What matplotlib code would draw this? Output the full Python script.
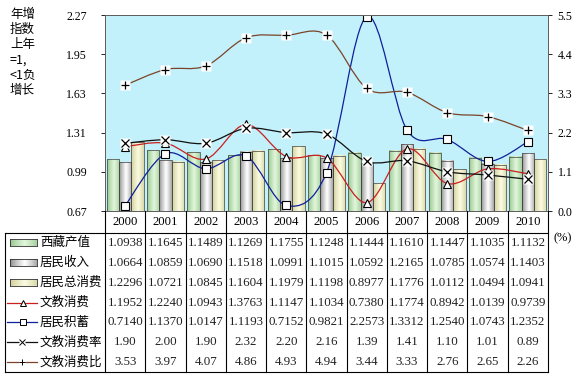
import numpy as np
import matplotlib
matplotlib.use('Agg')
import matplotlib.pyplot as plt
from matplotlib.path import Path
from matplotlib.patches import PathPatch, Rectangle
from matplotlib.lines import Line2D
from matplotlib.transforms import blended_transform_factory

years = ['2000', '2001', '2002', '2003', '2004', '2005', '2006', '2007', '2008', '2009', '2010']
gdp = [1.0938, 1.1645, 1.1489, 1.1269, 1.1755, 1.1248, 1.1444, 1.1610, 1.1447, 1.1035, 1.1132]
income = [1.0664, 1.0859, 1.0690, 1.1518, 1.0991, 1.1015, 1.0592, 1.2165, 1.0785, 1.0574, 1.1403]
consumption = [1.2296, 1.0721, 1.0845, 1.1604, 1.1979, 1.1198, 0.8977, 1.1776, 1.0112, 1.0494, 1.0941]
edu = [1.1952, 1.2240, 1.0943, 1.3763, 1.1147, 1.1034, 0.7380, 1.1774, 0.8942, 1.0139, 0.9739]
savings = [0.7140, 1.1370, 1.0147, 1.1193, 0.7152, 0.9821, 2.2573, 1.3312, 1.2540, 1.0743, 1.2352]
edu_rate = [1.90, 2.00, 1.90, 2.32, 2.20, 2.16, 1.39, 1.41, 1.10, 1.01, 0.89]
edu_ratio = [3.53, 3.97, 4.07, 4.86, 4.93, 4.94, 3.44, 3.33, 2.76, 2.65, 2.26]

left_ticks = [0.67, 0.99, 1.31, 1.63, 1.95, 2.27]
right_ticks = [0.0, 1.1, 2.2, 3.3, 4.4, 5.5]
labels = ['西藏产值', '居民收入', '居民总消费', '文教消费', '居民积蓄', '文教消费率', '文教消费比']

W, H = 581, 379
CJK = ['Noto Sans CJK SC', 'DejaVu Sans']
SERIF = ['Liberation Serif', 'DejaVu Serif']

def fx(p):
    return p / W

def fy(p):
    return 1 - p / H

fig = plt.figure(figsize=(W / 100, H / 100), dpi=100)
AX_L, AX_R, AX_T, AX_B = 105, 548, 15, 211
ax = fig.add_axes([fx(AX_L), fy(AX_B), (AX_R - AX_L) / W, (AX_B - AX_T) / H])
ax.set_facecolor('#c3f1fb')
ax2 = ax.twinx()

x = np.arange(len(years))
bw = 0.305
bar_specs = [
    (gdp, -bw, ('#90c488', '#e2f6dc')),
    (income, 0, ('#888888', '#ffffff')),
    (consumption, bw, ('#cccc94', '#fbfbe2')),
]

def gradient(edge, center, n=64):
    e = np.array(matplotlib.colors.to_rgb(edge))
    c = np.array(matplotlib.colors.to_rgb(center))
    t = np.linspace(0, 1, n)
    w = np.clip(1 - np.abs(t - 0.55) / 0.55, 0, 1) ** 0.8
    arr = e[None, :] * (1 - w[:, None]) + c[None, :] * w[:, None]
    return arr[None, :, :]

base = left_ticks[0]
for vals, off, (ec, cc) in bar_specs:
    bars = ax.bar(x + off, np.array(vals) - base, bw, bottom=base, facecolor='none',
                  edgecolor='#404040', linewidth=0.5, zorder=3)
    g = gradient(ec, cc)
    for r in bars.patches:
        ax.imshow(g, extent=(r.get_x(), r.get_x() + r.get_width(), r.get_y(), r.get_y() + r.get_height()),
                  aspect='auto', zorder=2, interpolation='bilinear')

def smooth_path(xs, ys):
    P = np.column_stack([xs, ys]).astype(float)
    n = len(P)
    verts = [P[0]]
    codes = [Path.MOVETO]
    for i in range(n - 1):
        p0 = P[i - 1] if i > 0 else P[i]
        p1 = P[i]
        p2 = P[i + 1]
        p3 = P[i + 2] if i + 2 < n else P[i + 1]
        c1 = p1 + (p2 - p0) / 6
        c2 = p2 - (p3 - p1) / 6
        verts += [c1, c2, p2]
        codes += [Path.CURVE4] * 3
    return Path(verts, codes)

line_specs = [
    (ax, edu, '#c82020', '^'),
    (ax, savings, '#10209a', 's'),
    (ax2, edu_rate, '#101010', 'x'),
    (ax2, edu_ratio, '#7a4428', '+'),
]
for a, vals, col, mk in line_specs:
    a.add_patch(PathPatch(smooth_path(x, vals), fill=False, edgecolor=col, linewidth=0.9, zorder=5))
    if mk in ('x', '+'):
        a.plot(x, vals, linestyle='none', marker='s', markersize=7, markerfacecolor='white',
               markeredgecolor='none', zorder=6)
        a.plot(x, vals, linestyle='none', marker=mk, markersize=6, markeredgecolor='black',
               markeredgewidth=0.9, zorder=7)
    else:
        a.plot(x, vals, linestyle='none', marker=mk, markersize=5.5, markerfacecolor='white',
               markeredgecolor='black', markeredgewidth=0.8, zorder=7)

ax.set_xlim(-0.5, len(years) - 0.5)
ax.set_ylim(left_ticks[0], left_ticks[-1])
ax2.set_ylim(right_ticks[0], right_ticks[-1])
ax.set_xticks([])
ax.set_yticks(left_ticks)
ax.set_yticklabels(['%.2f' % v for v in left_ticks], family=SERIF, fontsize=8.6)
ax2.set_yticks(right_ticks)
ax2.set_yticklabels(['%.1f' % v for v in right_ticks], family=SERIF, fontsize=8.6)
ax.tick_params(axis='y', direction='out', length=3, pad=10, width=0.6)
ax2.tick_params(axis='y', direction='out', length=3, pad=4, width=0.6)
for a in (ax, ax2):
    for s in a.spines.values():
        s.set_color('#606060')
        s.set_linewidth(0.7)

# ---- data table ----
bt = blended_transform_factory(ax.transData, fig.transFigure)
TOP, HDR, BOT = AX_B, 233, 372
row_h = (BOT - HDR) / 7
for yr_i, yr in enumerate(years):
    fig.text(yr_i, fy((TOP + HDR) / 2), yr, transform=bt, ha='center', va='center',
             family=SERIF, fontsize=9.2)
for b in np.arange(-0.5, len(years)):
    fig.add_artist(Line2D([b, b], [fy(TOP), fy(BOT)], transform=bt, color='black', linewidth=0.8))
for py in (HDR, BOT):
    fig.add_artist(Line2D([fx(5), fx(AX_R)], [fy(py), fy(py)], transform=fig.transFigure,
                          color='black', linewidth=0.8))
fig.add_artist(Line2D([fx(5), fx(5)], [fy(HDR), fy(BOT)], transform=fig.transFigure,
                      color='black', linewidth=0.8))

rows = [gdp, income, consumption, edu, savings, edu_rate, edu_ratio]
fmts = ['%.4f'] * 5 + ['%.2f'] * 2
for k, (vals, fm) in enumerate(zip(rows, fmts)):
    cy = fy(HDR + row_h * (k + 0.5))
    for i, v in enumerate(vals):
        fig.text(i, cy, fm % v, transform=bt, ha='center', va='center', family=SERIF,
                 fontsize=9.3, color='#202020')
    fig.text(fx(40), cy, labels[k], ha='left', va='center', family=CJK, fontsize=9)
    if k < 3:
        kax = fig.add_axes([fx(10), cy - 3.5 / H, 27 / W, 7 / H])
        kax.imshow(gradient(*bar_specs[k][2]), aspect='auto', interpolation='bilinear')
        kax.set_xticks([])
        kax.set_yticks([])
        for s in kax.spines.values():
            s.set_linewidth(0.6)
            s.set_color('#303030')
    else:
        _, _, col, mk = line_specs[k - 3]
        fig.add_artist(Line2D([fx(7), fx(37)], [cy, cy], transform=fig.transFigure,
                              color=col, linewidth=0.9))
        if mk in ('x', '+'):
            fig.add_artist(Line2D([fx(22)], [cy], transform=fig.transFigure, linestyle='none',
                                  marker='s', markersize=5, markerfacecolor='white', markeredgecolor='none'))
            fig.add_artist(Line2D([fx(22)], [cy], transform=fig.transFigure, linestyle='none',
                                  marker=mk, markersize=4, markeredgecolor='black', markeredgewidth=0.7))
        else:
            fig.add_artist(Line2D([fx(23)], [cy], transform=fig.transFigure, linestyle='none',
                                  marker=mk, markersize=4, markerfacecolor='white',
                                  markeredgecolor='black', markeredgewidth=0.7))

fig.text(fx(10), fy(8), '年增\n指数\n上年\n=1,\n<1负\n增长', ha='left', va='top',
         family=CJK, fontsize=9, linespacing=1.22)
fig.text(fx(554), fy(238), '(%)', ha='left', va='center', family=SERIF, fontsize=9)

fig.savefig('out.png', dpi=100)
